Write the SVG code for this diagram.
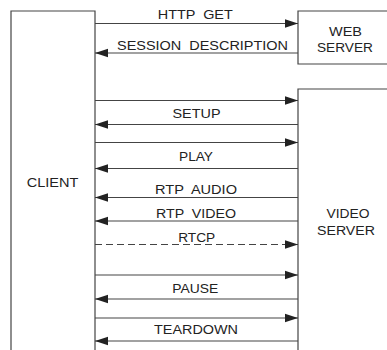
<svg xmlns="http://www.w3.org/2000/svg" width="387" height="350" viewBox="0 0 387 350">
<style>
.box{fill:none;stroke:#444;stroke-width:1.2}
.ln{stroke:#444;stroke-width:1.2;fill:none;marker-end:url(#ah)}
.dash{stroke-dasharray:7 4}
text{font-family:"Liberation Sans",Arial,Helvetica,sans-serif;font-size:12.5px;fill:#222;text-anchor:middle}
</style>
<defs>
<marker id="ah" markerUnits="userSpaceOnUse" markerWidth="13" markerHeight="10" viewBox="0 0 12 8" refX="12" refY="4" orient="auto">
<path d="M0,0 L12,4 L0,8 Z" fill="#222"/>
</marker>
</defs>
<rect width="387" height="350" fill="#fff"/>
<g id="client">
<path class="box" d="M11,351 V11 H95 V351"/>
<text x="52.5" y="187" textLength="51.6" lengthAdjust="spacingAndGlyphs">CLIENT</text>
</g>
<g id="web-server">
<path class="box" d="M388,11 H298 V64 H388"/>
<text x="345.5" y="36" textLength="33" lengthAdjust="spacingAndGlyphs">WEB</text>
<text x="345" y="51.5" textLength="56" lengthAdjust="spacingAndGlyphs">SERVER</text>
</g>
<g id="video-server">
<path class="box" d="M388,89 H298 V351"/>
<text x="348" y="218" textLength="43" lengthAdjust="spacingAndGlyphs">VIDEO</text>
<text x="346" y="235" textLength="58" lengthAdjust="spacingAndGlyphs">SERVER</text>
</g>
<g id="connectors">
<line class="ln" x1="95" y1="23.5" x2="298" y2="23.5"/>
<line class="ln" x1="298" y1="53" x2="95" y2="53"/>
<line class="ln" x1="95" y1="100.5" x2="298" y2="100.5"/>
<line class="ln" x1="298" y1="124.5" x2="95" y2="124.5"/>
<line class="ln" x1="95" y1="142.5" x2="298" y2="142.5"/>
<line class="ln" x1="298" y1="168.5" x2="95" y2="168.5"/>
<line class="ln" x1="298" y1="197.5" x2="95" y2="197.5"/>
<line class="ln" x1="298" y1="221" x2="95" y2="221"/>
<line class="ln dash" x1="95" y1="244.5" x2="298" y2="244.5"/>
<line class="ln" x1="95" y1="275" x2="298" y2="275"/>
<line class="ln" x1="298" y1="299" x2="95" y2="299"/>
<line class="ln" x1="95" y1="318" x2="298" y2="318"/>
<line class="ln" x1="298" y1="341" x2="95" y2="341"/>
<text x="195.3" y="19" textLength="75" lengthAdjust="spacingAndGlyphs" xml:space="preserve">HTTP  GET</text>
<text x="202.5" y="50" textLength="171" lengthAdjust="spacingAndGlyphs" xml:space="preserve">SESSION  DESCRIPTION</text>
<text x="196.5" y="117.5" textLength="48" lengthAdjust="spacingAndGlyphs">SETUP</text>
<text x="196" y="160.5" textLength="34" lengthAdjust="spacingAndGlyphs">PLAY</text>
<text x="196" y="194" textLength="82" lengthAdjust="spacingAndGlyphs" xml:space="preserve">RTP  AUDIO</text>
<text x="196" y="218" textLength="80" lengthAdjust="spacingAndGlyphs" xml:space="preserve">RTP  VIDEO</text>
<text x="196.7" y="242" textLength="37" lengthAdjust="spacingAndGlyphs">RTCP</text>
<text x="195.3" y="293" textLength="46" lengthAdjust="spacingAndGlyphs">PAUSE</text>
<text x="196" y="334" textLength="84" lengthAdjust="spacingAndGlyphs">TEARDOWN</text>
</g>
</svg>
